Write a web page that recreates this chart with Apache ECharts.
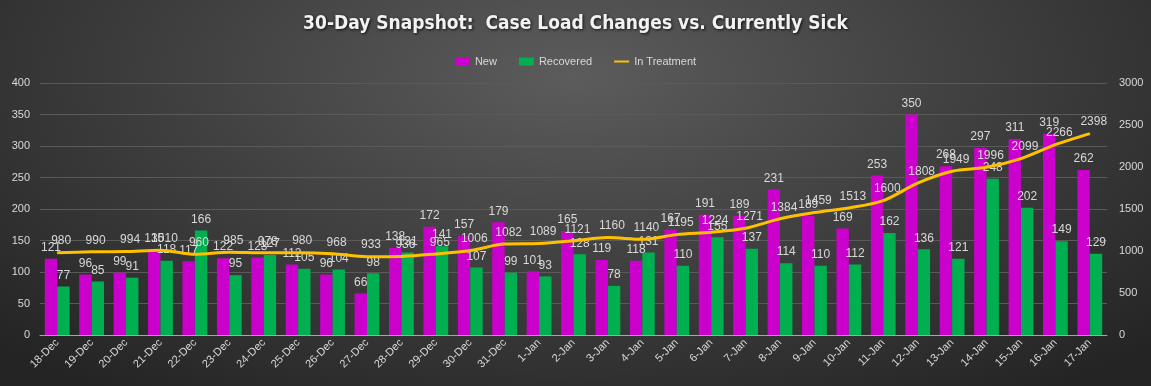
<!DOCTYPE html>
<html>
<head>
<meta charset="utf-8">
<script src="https://cdn.jsdelivr.net/npm/echarts@6/dist/echarts.min.js"></script>
<style>
html,body{margin:0;padding:0;}
#c{width:1151px;height:386px;background:radial-gradient(ellipse 70% 100% at 50% 20%, #5c5c5c 0%, #424242 45%, #242424 100%);}
</style>
</head>
<body>
<div id="c"></div>
<script>
const categories = ["18-Dec","19-Dec","20-Dec","21-Dec","22-Dec","23-Dec","24-Dec","25-Dec","26-Dec","27-Dec","28-Dec","29-Dec","30-Dec","31-Dec","1-Jan","2-Jan","3-Jan","4-Jan","5-Jan","6-Jan","7-Jan","8-Jan","9-Jan","10-Jan","11-Jan","12-Jan","13-Jan","14-Jan","15-Jan","16-Jan","17-Jan"];
const newCases = [121,96,99,135,117,122,123,112,96,66,138,172,157,179,101,165,119,118,167,191,189,231,189,169,253,350,268,297,311,319,262];
const recovered = [77,85,91,118,166,95,127,105,104,98,131,141,107,99,93,128,78,131,110,155,137,114,110,112,162,136,121,248,202,149,129];
const inTreatment = [980,990,994,1010,960,985,978,980,968,933,936,965,1006,1082,1089,1121,1160,1140,1195,1224,1271,1384,1459,1513,1600,1808,1949,1996,2099,2266,2398];
const leftTicks = [0,400,50];
const rightTicks = [0,3000,500];

const chart = echarts.init(document.getElementById('c'), null, {renderer:'canvas'});
const font = 'Liberation Sans, Arial, sans-serif';
const lbl = {show:true, position:'top', color:'#d9d9d9', fontSize:12, fontFamily:font};
chart.setOption({
  backgroundColor:'transparent',
  animation:false,
  title:{
    text:'30-Day Snapshot:  Case Load Changes vs. Currently Sick',
    left:'center', top:10,
    textStyle:{color:'#f2f2f2', fontSize:19, fontWeight:'bold', fontFamily:'DejaVu Sans Condensed, DejaVu Sans, sans-serif',
      textShadowColor:'rgba(0,0,0,0.8)', textShadowBlur:3, textShadowOffsetX:1, textShadowOffsetY:1}
  },
  legend:{
    top:51, left:'center', itemWidth:15, itemHeight:8, itemGap:22,
    textStyle:{color:'#d9d9d9', fontSize:11, fontFamily:font},
    data:[{name:'New', icon:'rect'},{name:'Recovered', icon:'rect'},
          {name:'In Treatment', icon:'path://M0,2 L30,2 L30,6 L0,6 Z'}]
  },
  grid:{left:40, right:44, top:83, bottom:51},
  xAxis:{
    type:'category', data:categories,
    axisLine:{lineStyle:{color:'#a6a6a6'}},
    axisTick:{show:false},
    axisLabel:{color:'#d9d9d9', fontSize:11, rotate:45, interval:0, fontFamily:font, margin:6}
  },
  yAxis:[
    {type:'value', min:leftTicks[0], max:leftTicks[1], interval:leftTicks[2],
     axisLabel:{color:'#d9d9d9', fontSize:11, fontFamily:font, margin:10},
     axisLine:{show:false}, axisTick:{show:false},
     splitLine:{lineStyle:{color:'#5a5a5a', width:1}}},
    {type:'value', min:rightTicks[0], max:rightTicks[1], interval:rightTicks[2],
     axisLabel:{color:'#d9d9d9', fontSize:11, fontFamily:font, margin:12, formatter:function(v){return String(v);}},
     axisLine:{show:false}, axisTick:{show:false}, splitLine:{show:false}}
  ],
  series:[
    {name:'New', type:'bar', data:newCases, itemStyle:{color:'#cc00cc'}, barGap:'0%', barCategoryGap:'28%', label:lbl},
    {name:'Recovered', type:'bar', data:recovered, itemStyle:{color:'#00b050'}, label:lbl},
    {name:'In Treatment', type:'line', yAxisIndex:1, data:inTreatment, smooth:0.3,
     symbol:'circle', symbolSize:1, showSymbol:true,
     lineStyle:{color:'#ffc000', width:3}, itemStyle:{color:'#ffc000'},
     label:Object.assign({}, lbl, {offset:[4,0]})}
  ]
});
</script>
</body>
</html>
